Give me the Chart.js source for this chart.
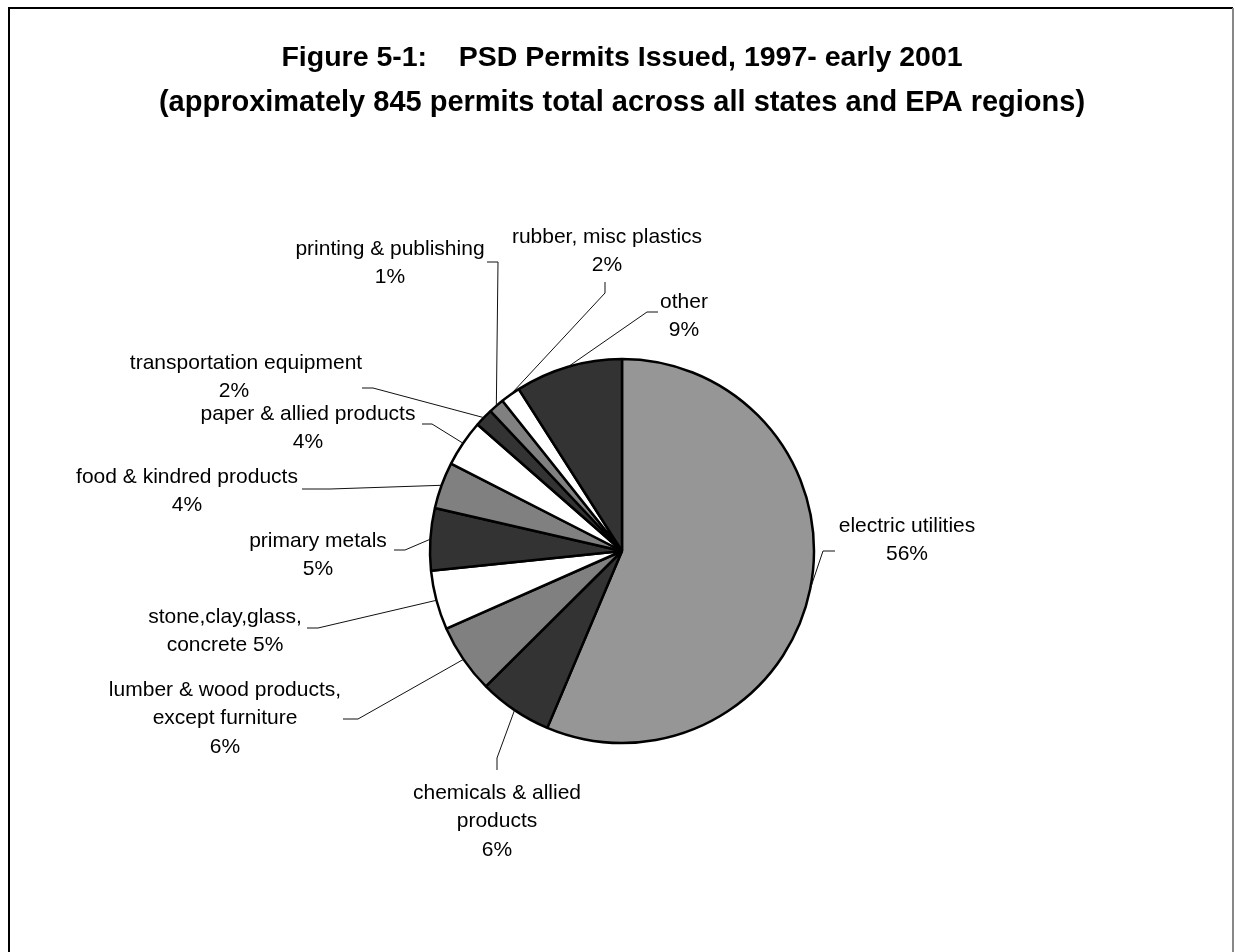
<!DOCTYPE html>
<html>
<head>
<meta charset="utf-8">
<script src="https://cdn.jsdelivr.net/npm/chart.js@4.4.1/dist/chart.umd.min.js"></script>
<style>
  html, body { margin: 0; padding: 0; background: #ffffff; }
  #wrap { position: relative; width: 1235px; height: 952px; }
</style>
</head>
<body>
<div id="wrap"><canvas id="chart" width="1235" height="952"></canvas></div>
<script>
// ---- data ----
const categories = [
  'electric utilities',
  'chemicals & allied products',
  'lumber & wood products, except furniture',
  'stone,clay,glass, concrete',
  'primary metals',
  'food & kindred products',
  'paper & allied products',
  'transportation equipment',
  'printing & publishing',
  'rubber, misc plastics',
  'other'
];
const permits = [474, 52, 49, 42, 44, 33, 33, 13, 11, 14, 76];
const labelLines = [
  ['electric utilities', '{p}'],
  ['chemicals & allied', 'products', '{p}'],
  ['lumber & wood products,', 'except furniture', '{p}'],
  ['stone,clay,glass,', 'concrete {p}'],
  ['primary metals', '{p}'],
  ['food & kindred products', '{p}'],
  ['paper & allied products', '{p}'],
  ['transportation equipment', '{p}'],
  ['printing & publishing', '{p}'],
  ['rubber, misc plastics', '{p}'],
  ['other', '{p}']
];
const titleText = 'Figure 5-1:    PSD Permits Issued, 1997- early 2001';
const subtitleText = '(approximately 845 permits total across all states and EPA regions)';

// ---- styles / layout (not data) ----
const sliceColors = ['#969696', '#333333', '#808080', '#ffffff', '#333333', '#808080',
                     '#ffffff', '#333333', '#808080', '#ffffff', '#333333'];
// label placement relative to pie centre: text centre of first line, leader elbow, leader end
const labelLayout = [
  { tx: 285, ty: -25, elbow: [201, 0], end: [213, 0] },
  { tx: -125, ty: 242, elbow: [-125, 207], end: [-125, 219] },
  { tx: -397, ty: 139, elbow: [-264, 168], end: [-279, 168] },
  { tx: -397, ty: 66, elbow: [-304, 77], end: [-315, 77] },
  { tx: -304, ty: -10, elbow: [-217, -1], end: [-228, -1] },
  { tx: -435, ty: -74, elbow: [-292, -62], end: [-320, -62] },
  { tx: -314, ty: -137, elbow: [-190, -127], end: [-200, -127] },
  { tx: -376, ty: -188, elbow: [-249, -163], end: [-260, -163], dx2: -12 },
  { tx: -232, ty: -302, elbow: [-124, -289], end: [-135, -289] },
  { tx: -15, ty: -314, elbow: [-17, -258], end: [-17, -269] },
  { tx: 62, ty: -249, elbow: [25, -239], end: [36, -239] }
];
const LABEL_FONT = '21px "Liberation Sans", Arial, sans-serif';
const LINE_H = 28.5;

const framePlugin = {
  id: 'frame',
  beforeDraw(chart) {
    const ctx = chart.ctx;
    ctx.save();
    ctx.fillStyle = '#ffffff';
    ctx.fillRect(0, 0, chart.width, chart.height);
    ctx.strokeStyle = '#000000';
    ctx.lineWidth = 2;
    ctx.beginPath();
    ctx.moveTo(9, 960); ctx.lineTo(9, 8); ctx.lineTo(1233, 8);
    ctx.stroke();
    ctx.strokeStyle = '#888888';
    ctx.beginPath();
    ctx.moveTo(1233, 8); ctx.lineTo(1233, 960);
    ctx.stroke();
    ctx.restore();
  }
};

const labelPlugin = {
  id: 'pieLabels',
  afterDatasetsDraw(chart) {
    const ctx = chart.ctx;
    const meta = chart.getDatasetMeta(0);
    const data = chart.data.datasets[0].data;
    const total = data.reduce((a, b) => a + b, 0);
    ctx.save();
    meta.data.forEach((arc, i) => {
      const p = arc.getProps(['x', 'y', 'startAngle', 'endAngle', 'outerRadius'], true);
      const mid = (p.startAngle + p.endAngle) / 2;
      const ax = p.x + Math.cos(mid) * p.outerRadius;
      const ay = p.y + Math.sin(mid) * p.outerRadius;
      const L = labelLayout[i];
      // leader line
      ctx.strokeStyle = '#111111';
      ctx.lineWidth = 1;
      ctx.beginPath();
      ctx.moveTo(ax, ay);
      ctx.lineTo(p.x + L.elbow[0], p.y + L.elbow[1]);
      ctx.lineTo(p.x + L.end[0], p.y + L.end[1]);
      ctx.stroke();
      // label text
      const pct = Math.round(data[i] / total * 100) + '%';
      ctx.fillStyle = '#000000';
      ctx.font = LABEL_FONT;
      ctx.textAlign = 'center';
      ctx.textBaseline = 'middle';
      labelLines[i].forEach((ln, k) => {
        const shift = (k > 0 && L.dx2) ? L.dx2 : 0;
        ctx.fillText(ln.replace('{p}', pct), p.x + L.tx + shift, p.y + L.ty + k * LINE_H);
      });
    });
    ctx.restore();
  }
};

new Chart(document.getElementById('chart'), {
  type: 'pie',
  data: {
    labels: categories,
    datasets: [{
      data: permits,
      backgroundColor: sliceColors,
      borderColor: '#000000',
      borderWidth: 2.5,
      radius: 192
    }]
  },
  options: {
    responsive: false,
    animation: false,
    events: [],
    layout: { padding: { left: 9, right: 0, top: 0, bottom: 0 } },
    plugins: {
      legend: { display: false },
      tooltip: { enabled: false },
      title: {
        display: true,
        text: titleText,
        color: '#000000',
        font: { family: '"Liberation Sans", Arial, sans-serif', size: 28.5, weight: 'bold' },
        padding: { top: 41, bottom: 4 }
      },
      subtitle: {
        display: true,
        text: subtitleText,
        color: '#000000',
        font: { family: '"Liberation Sans", Arial, sans-serif', size: 29, weight: 'bold' },
        padding: { top: 6.4, bottom: 29.6 }
      }
    }
  },
  plugins: [framePlugin, labelPlugin]
});
</script>
</body>
</html>
